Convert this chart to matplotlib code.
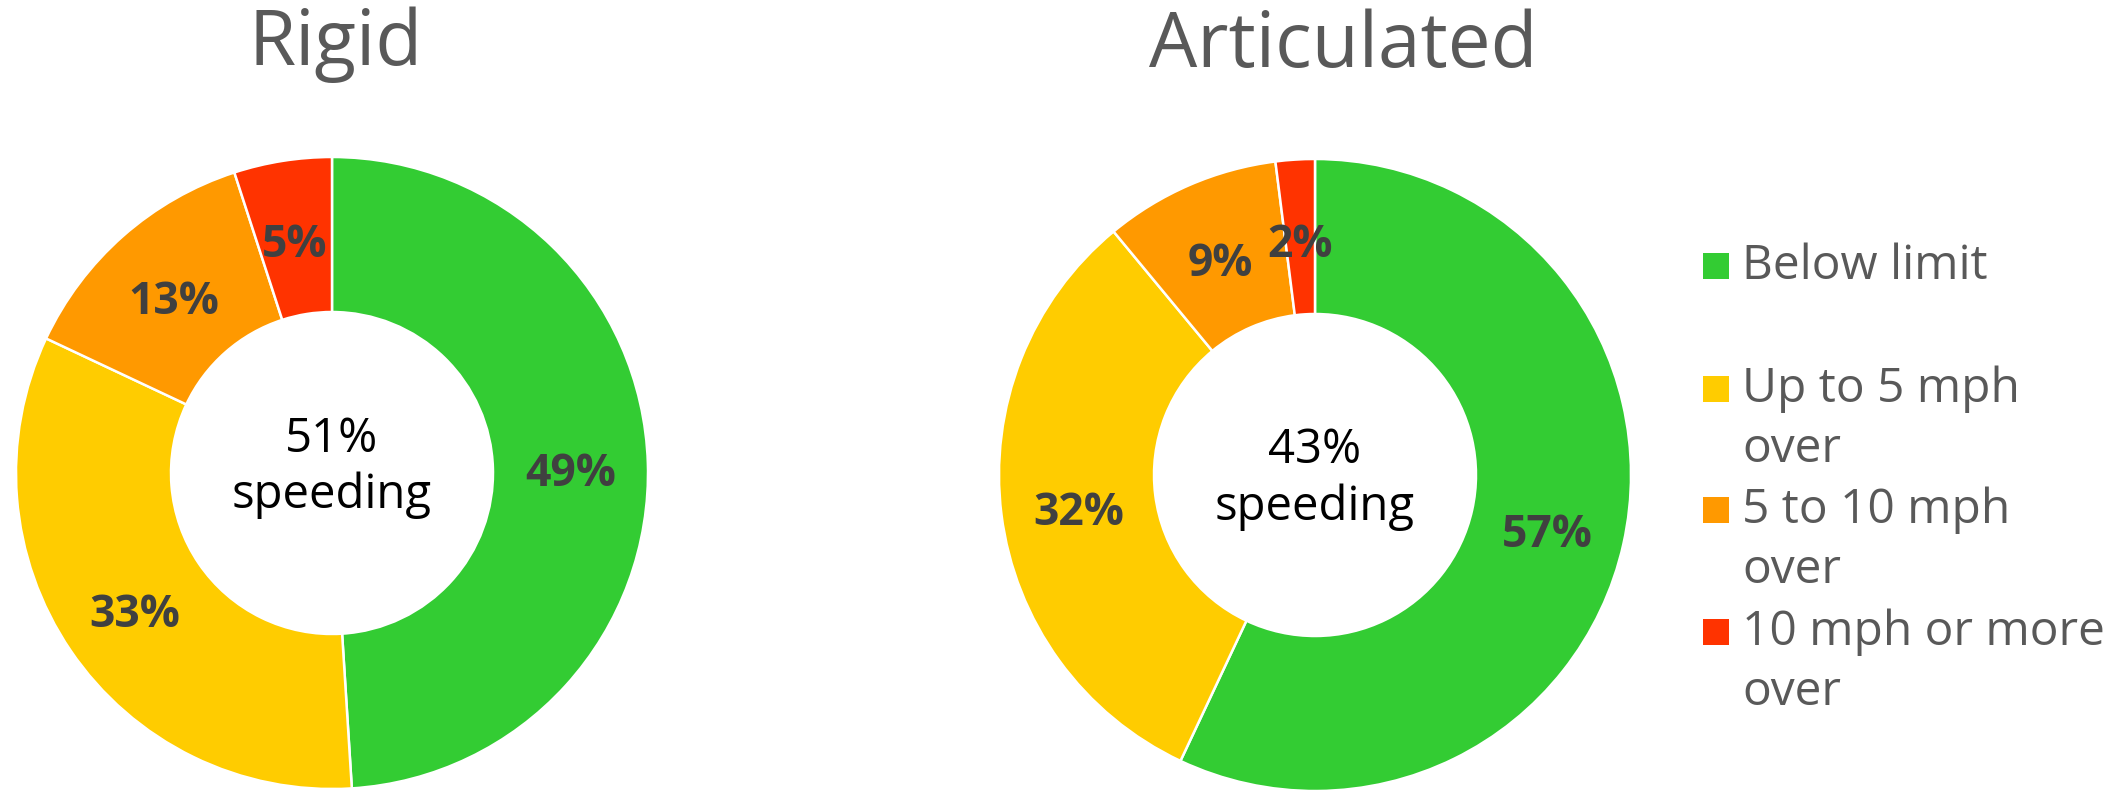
import matplotlib
matplotlib.use("Agg")
import matplotlib.pyplot as plt
from matplotlib.patches import Rectangle
import numpy as np

# ---- data ----
categories = ["Below limit", "Up to 5 mph over", "5 to 10 mph over", "10 mph or more over"]
legend_labels = ["Below limit", "Up to 5 mph\nover", "5 to 10 mph\nover", "10 mph or more\nover"]
rigid_values = [49, 33, 13, 5]
articulated_values = [57, 32, 9, 2]
titles = ["Rigid", "Articulated"]
speeding_text = ["51%\nspeeding", "43%\nspeeding"]
colors = ["#33CC33", "#FFCC00", "#FF9900", "#FF3300"]

plt.rcParams['font.family'] = ['Open Sans', 'DejaVu Sans']

W, H = 2126, 791
fig = plt.figure(figsize=(W / 100, H / 100), dpi=100)
ax = fig.add_axes([0, 0, 1, 1])

R = 316
R_IN = 161
centers = [(332, H - 473), (1315, H - 475)]
title_pos = [(336, H - 65), (1343, H - 67)]
center_offsets = [(21, -35), (12, -45)]

for vals, (cx, cy), title, tpos, ctext, coff in zip(
        [rigid_values, articulated_values], centers, titles, title_pos,
        speeding_text, center_offsets):
    wedges, _ = ax.pie(vals, colors=colors, startangle=90, counterclock=False,
                       center=(cx, cy), radius=R,
                       wedgeprops=dict(width=R - R_IN, edgecolor="white", linewidth=1.8))
    total = sum(vals)
    cum = 0
    rmid = (R + R_IN) / 2
    for v in vals:
        mid = (cum + v / 2) / total * 2 * np.pi
        cum += v
        x = cx + rmid * np.sin(mid)
        y = cy + rmid * np.cos(mid) - 20
        ax.text(x, y, f"{v}%", ha="center", va="baseline", fontsize=32,
                fontweight="bold", color="#404040")
    ax.text(tpos[0], tpos[1], title, ha="center", va="baseline", fontsize=55,
            color="#595959")
    l1, l2 = ctext.split("\n")
    ax.text(cx, cy + coff[0], l1, ha="center", va="baseline", fontsize=34, color="black")
    ax.text(cx, cy + coff[1], l2, ha="center", va="baseline", fontsize=34, color="black")

# ---- legend ----
leg_baselines = [279, 402, 523, 645]
line_gap = 60
for lab, col, yb in zip(legend_labels, colors, leg_baselines):
    ax.add_patch(Rectangle((1703, H - yb), 26, 26, facecolor=col, edgecolor="none"))
    for i, line in enumerate(lab.split("\n")):
        ax.text(1742, H - yb - i * line_gap, line, ha="left", va="baseline",
                fontsize=34.5, color="#595959")

ax.set_xlim(0, W)
ax.set_ylim(0, H)
ax.set_aspect("equal", adjustable="box")
ax.axis("off")

fig.savefig("out.png", dpi=100, facecolor="white")
